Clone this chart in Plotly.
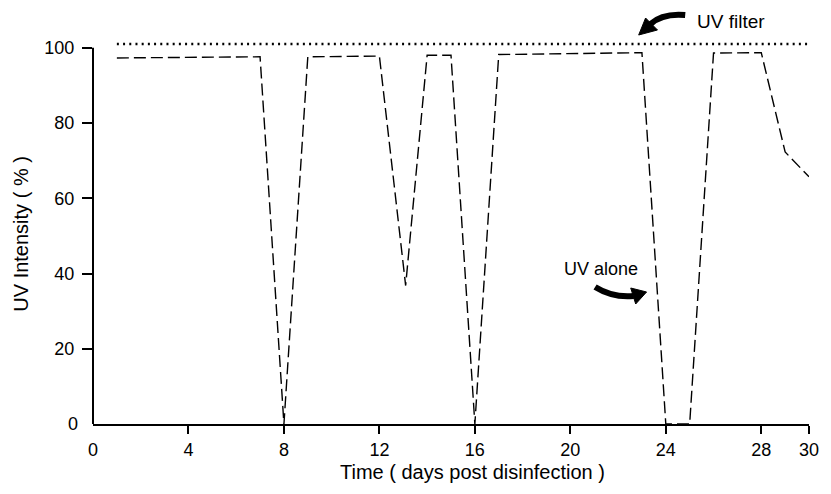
import plotly.graph_objects as go

# ---- data ----
days_uv_alone = [1, 7, 8, 9, 12, 13.1, 14, 15, 16, 17, 23, 24, 25, 26, 28, 29, 30]
uv_alone = [97.3, 97.6, 0, 97.6, 97.8, 36.8, 98.0, 98.0, 0, 98.2, 98.7, 0, 0, 98.6, 98.7, 72.3, 65.7]

days_uv_filter = [1, 30]
uv_filter = [101, 101]

x_tick_vals = [0, 4, 8, 12, 16, 20, 24, 28, 30]
y_tick_vals = [0, 20, 40, 60, 80, 100]

X_MAX = 30
Y_MAX = 102.6

# ---- layout geometry (window pixels; page body has an 8px default margin) ----
OFF = 8
WIN_W, WIN_H = 831, 494
W, H = WIN_W - OFF, WIN_H - OFF
PLOT_L, PLOT_R, PLOT_T, PLOT_B = 93, 816, 38, 424   # in window pixels
ML = PLOT_L - OFF
MT = PLOT_T - OFF
MR = W - (PLOT_R - OFF)
MB = H - (PLOT_B - OFF)
PW = PLOT_R - PLOT_L
PH = PLOT_B - PLOT_T
FONT = "Liberation Sans, Arial, Helvetica, sans-serif"


def px(x, y):
    """window pixel -> paper coordinates"""
    return (x - PLOT_L) / PW, (PLOT_B - y) / PH


def pstr(x, y):
    a, b = px(x, y)
    return f"{a:.5f},{b:.5f}"


fig = go.Figure()

fig.add_trace(go.Scatter(
    x=days_uv_filter, y=uv_filter, mode="lines", name="UV filter",
    line=dict(color="black", width=2.4, dash="2px,4.2px"),
))
fig.add_trace(go.Scatter(
    x=days_uv_alone, y=uv_alone, mode="lines", name="UV alone",
    line=dict(color="black", width=1.4, dash="12px,5px"),
))

shapes = []
# y-axis line, from 0 to 100 only
shapes.append(dict(type="line", xref="paper", yref="paper",
                   x0=0, x1=0, y0=0, y1=100 / Y_MAX,
                   line=dict(color="black", width=2)))

# curved arrow for "UV filter"
shapes.append(dict(type="path", xref="paper", yref="paper",
                   path=f"M {pstr(691, 15)} Q {pstr(668, 13)} {pstr(656, 24)}",
                   line=dict(color="black", width=6)))
shapes.append(dict(type="path", xref="paper", yref="paper",
                   path=f"M {pstr(644, 35)} L {pstr(651, 18)} L {pstr(663, 30)} Z",
                   fillcolor="black", line=dict(color="black", width=1)))

# curved arrow for "UV alone"
shapes.append(dict(type="path", xref="paper", yref="paper",
                   path=f"M {pstr(600, 287)} Q {pstr(618, 298)} {pstr(639, 296)}",
                   line=dict(color="black", width=6)))
shapes.append(dict(type="path", xref="paper", yref="paper",
                   path=f"M {pstr(652, 292)} L {pstr(636, 288)} L {pstr(641, 304)} Z",
                   fillcolor="black", line=dict(color="black", width=1)))

annotations = []
# zero labels (the reference has no tick marks at zero)
annotations.append(dict(x=x_tick_vals[0], y=0, xref="x", yref="paper",
                        text=str(x_tick_vals[0]), showarrow=False,
                        xanchor="center", yanchor="top", yshift=-14,
                        font=dict(family=FONT, size=18, color="black")))
annotations.append(dict(x=0, y=y_tick_vals[0], xref="paper", yref="y",
                        text=str(y_tick_vals[0]), showarrow=False,
                        xanchor="right", yanchor="middle", xshift=-13,
                        font=dict(family=FONT, size=18, color="black")))

# axis titles
annotations.append(dict(x=px(476, 0)[0], y=px(0, 472)[1], xref="paper", yref="paper",
                        text="Time ( days post disinfection )", showarrow=False,
                        xanchor="center", yanchor="middle",
                        font=dict(family=FONT, size=20, color="black")))
annotations.append(dict(x=px(20, 0)[0], y=px(0, 234)[1], xref="paper", yref="paper",
                        text="UV Intensity ( % )", showarrow=False, textangle=-90,
                        xanchor="center", yanchor="middle",
                        font=dict(family=FONT, size=20, color="black")))

# series labels
annotations.append(dict(x=px(701, 0)[0], y=px(0, 21)[1], xref="paper", yref="paper",
                        text="UV filter", showarrow=False,
                        xanchor="left", yanchor="middle",
                        font=dict(family=FONT, size=19, color="black")))
annotations.append(dict(x=px(567, 0)[0], y=px(0, 269)[1], xref="paper", yref="paper",
                        text="UV alone", showarrow=False,
                        xanchor="left", yanchor="middle",
                        font=dict(family=FONT, size=18, color="black")))

fig.update_layout(
    width=W, height=H,
    margin=dict(l=ML, r=MR, t=MT, b=MB, pad=0),
    paper_bgcolor="white", plot_bgcolor="white",
    showlegend=False,
    font=dict(family=FONT, size=18, color="black"),
    shapes=shapes,
    annotations=annotations,
    xaxis=dict(
        range=[0, X_MAX], tickmode="array",
        tickvals=x_tick_vals[1:], ticktext=[str(v) for v in x_tick_vals[1:]],
        ticks="outside", ticklen=8, tickwidth=2, tickcolor="black",
        showline=True, linewidth=2, linecolor="black",
        showgrid=False, zeroline=False,
        tickfont=dict(family=FONT, size=18, color="black"),
    ),
    yaxis=dict(
        range=[0, Y_MAX], tickmode="array",
        tickvals=y_tick_vals[1:], ticktext=[str(v) for v in y_tick_vals[1:]],
        ticks="outside", ticklen=10, tickwidth=2, tickcolor="black",
        ticklabelstandoff=4,
        showline=False, showgrid=False, zeroline=False,
        tickfont=dict(family=FONT, size=18, color="black"),
    ),
)

fig.write_html("out.html")
